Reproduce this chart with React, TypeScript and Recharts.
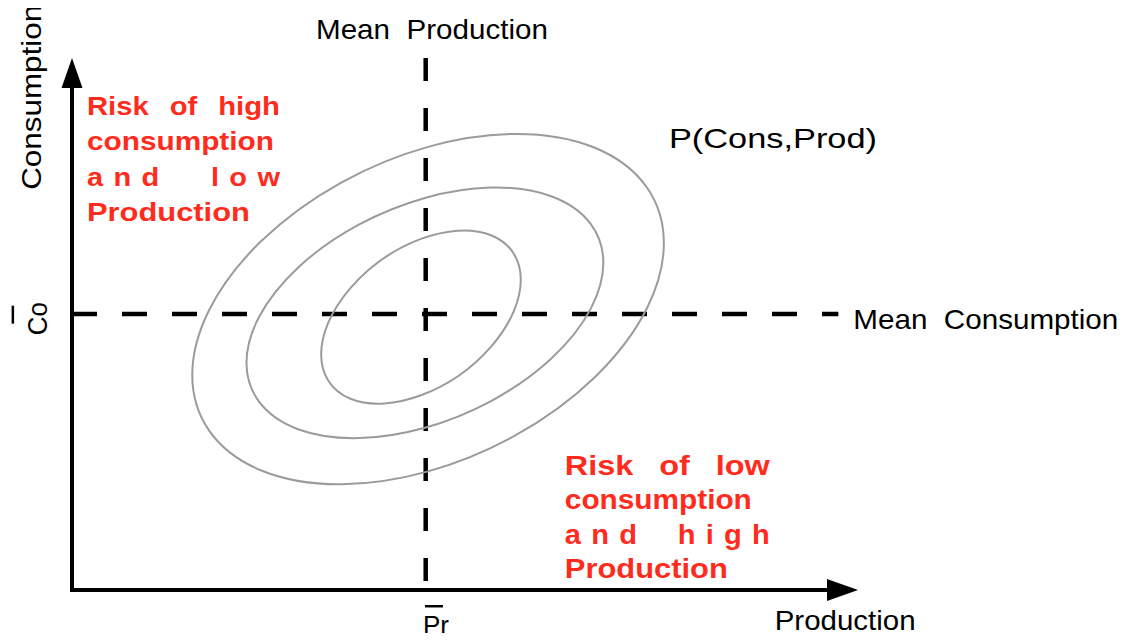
import React from 'react';
import { ScatterChart, Scatter, XAxis, YAxis, ReferenceLine, ReferenceDot } from 'recharts';

// Each contour: centre, right-most point, point where it crosses straight above the centre
const outerContour = [
  { x: 45.3, y: 52.8 },
  { x: 75.3, y: 65.2 },
  { x: 45.3, y: 83.3 },
];
const middleContour = [
  { x: 44.9, y: 52.1 },
  { x: 67.6, y: 61.5 },
  { x: 44.9, y: 73.7 },
];
const innerContour = [
  { x: 44.4, y: 51.3 },
  { x: 57.1, y: 58.3 },
  { x: 44.4, y: 66.0 },
];

const meanProduction = 45.0;
const meanConsumption = 51.9;
const axisTips = [
  { x: 100, y: 0, dir: 'right' },
  { x: 0, y: 100, dir: 'up' },
];

const highConsLines = ['Risk of high', 'consumption', 'a n d     l o w', 'Production'];
const lowConsLines = ['Risk of low', 'consumption', 'a n d    h i g h', 'Production'];

const FONT = '"Liberation Sans", Arial, Helvetica, sans-serif';
const RED = '#ff2b1c';

const contourLine = (props: any) => {
  const pts = props.points || [];
  const [c, r, t] = pts;
  if (!c || !r || !t) return <g />;
  const m = `matrix(${r.x - c.x} ${r.y - c.y} ${t.x - c.x} ${t.y - c.y} ${c.x} ${c.y})`;
  return (
    <ellipse
      cx={0}
      cy={0}
      rx={1}
      ry={1}
      transform={m}
      fill="none"
      stroke="#9b9b9b"
      strokeWidth={2}
      vectorEffect="non-scaling-stroke"
    />
  );
};

const arrowHead = (props: any) => {
  const { cx, cy, payload } = props;
  if (payload.dir === 'right') {
    return <polygon points={`${cx},${cy} ${cx - 31},${cy - 11} ${cx - 31},${cy + 11}`} fill="#000" />;
  }
  return <polygon points={`${cx},${cy} ${cx - 10.5},${cy + 30} ${cx + 10.5},${cy + 30}`} fill="#000" />;
};

type Txt = {
  text: string;
  width: number;
  size?: number;
  anchor?: 'start' | 'middle';
  rotate?: boolean;
};

const label = (t: Txt) => (p: any) => (
  <text
    x={p.cx}
    y={p.cy}
    fontFamily={FONT}
    fontSize={t.size ?? 28}
    fill="#000"
    textAnchor={t.anchor ?? 'start'}
    textLength={t.width}
    lengthAdjust="spacingAndGlyphs"
    transform={t.rotate ? `rotate(-90 ${p.cx} ${p.cy})` : undefined}
    style={{ whiteSpace: 'pre' }}
  >
    {t.text}
  </text>
);

const redBlock = (lines: string[], widths: number[], spacing: number[], size: number, gap: number) => (p: any) => (
  <g>
    {lines.map((s, i) => (
      <text
        key={i}
        x={p.cx}
        y={p.cy + i * gap}
        fontFamily={FONT}
        fontWeight="bold"
        fontSize={size}
        fill={RED}
        textLength={widths[i]}
        lengthAdjust="spacingAndGlyphs"
        style={{ whiteSpace: 'pre', wordSpacing: spacing[i] }}
      >
        {s}
      </text>
    ))}
  </g>
);

const barredCo = (p: any) => (
  <g>
    <text
      x={p.cx}
      y={p.cy}
      fontFamily={FONT}
      fontSize={28}
      textAnchor="middle"
      textLength={33}
      lengthAdjust="spacingAndGlyphs"
      transform={`rotate(-90 ${p.cx} ${p.cy})`}
    >
      Co
    </text>
    <line x1={p.cx - 34} y1={p.cy - 13} x2={p.cx - 34} y2={p.cy + 5} stroke="#000" strokeWidth={2.5} />
  </g>
);

const barredPr = (p: any) => (
  <g>
    <text x={p.cx} y={p.cy} fontFamily={FONT} fontSize={28} textLength={26} lengthAdjust="spacingAndGlyphs">
      Pr
    </text>
    <line x1={p.cx + 2} y1={p.cy - 29} x2={p.cx + 20} y2={p.cy - 29} stroke="#000" strokeWidth={2.5} />
  </g>
);

export default function App() {
  return (
    <div style={{ width: 1112, height: 625 }}>
      <ScatterChart width={1112} height={633} margin={{ top: 50, right: 262, bottom: 51, left: 64 }}>
        <XAxis type="number" dataKey="x" domain={[0, 100]} hide />
        <YAxis type="number" dataKey="y" domain={[0, 100]} hide />

        <Scatter data={outerContour} line={contourLine} shape={() => <g />} isAnimationActive={false} />
        <Scatter data={middleContour} line={contourLine} shape={() => <g />} isAnimationActive={false} />
        <Scatter data={innerContour} line={contourLine} shape={() => <g />} isAnimationActive={false} />

        {/* mean lines */}
        <ReferenceLine
          segment={[{ x: 0, y: meanConsumption }, { x: 97.5, y: meanConsumption }]}
          stroke="#000"
          strokeWidth={4.5}
          strokeDasharray="25 25"
          ifOverflow="visible"
        />
        <ReferenceLine
          segment={[{ x: meanProduction, y: 100 }, { x: meanProduction, y: 0 }]}
          stroke="#000"
          strokeWidth={4.5}
          strokeDasharray="23 27"
          ifOverflow="visible"
        />

        {/* axes */}
        <ReferenceLine segment={[{ x: 0, y: 0 }, { x: 96, y: 0 }]} stroke="#000" strokeWidth={4} strokeLinecap="square" ifOverflow="visible" />
        <ReferenceLine segment={[{ x: 0, y: 0 }, { x: 0, y: 95 }]} stroke="#000" strokeWidth={4} strokeLinecap="square" ifOverflow="visible" />
        <Scatter data={axisTips} shape={arrowHead} isAnimationActive={false} />

        {/* labels */}
        <ReferenceDot x={45.8} y={103.6} r={1} ifOverflow="visible" shape={label({ text: 'Mean  Production', width: 232, anchor: 'middle' })} />
        <ReferenceDot x={75.95} y={83.1} r={1} ifOverflow="visible" shape={label({ text: 'P(Cons,Prod)', width: 208 })} />
        <ReferenceDot x={99.4} y={49.1} r={1} ifOverflow="visible" shape={label({ text: 'Mean  Consumption', width: 265 })} />
        <ReferenceDot x={89.4} y={-7.6} r={1} ifOverflow="visible" shape={label({ text: 'Production', width: 141 })} />
        <ReferenceDot x={-3.95} y={92.6} r={1} ifOverflow="visible" shape={label({ text: 'Consumption', width: 185, anchor: 'middle', rotate: true })} />
        <ReferenceDot x={-3.2} y={51.0} r={1} ifOverflow="visible" shape={barredCo} />
        <ReferenceDot x={44.65} y={-8.5} r={1} ifOverflow="visible" shape={barredPr} />

        <ReferenceDot
          x={1.9}
          y={89.3}
          r={1}
          ifOverflow="visible"
          shape={redBlock(highConsLines, [193, 187, 193, 163], [11, 0, 2, 0], 25, 35.3)}
        />
        <ReferenceDot
          x={62.7}
          y={21.6}
          r={1}
          ifOverflow="visible"
          shape={redBlock(lowConsLines, [205, 187, 205, 163], [14, 0, 2, 0], 27, 34.3)}
        />
      </ScatterChart>
    </div>
  );
}
